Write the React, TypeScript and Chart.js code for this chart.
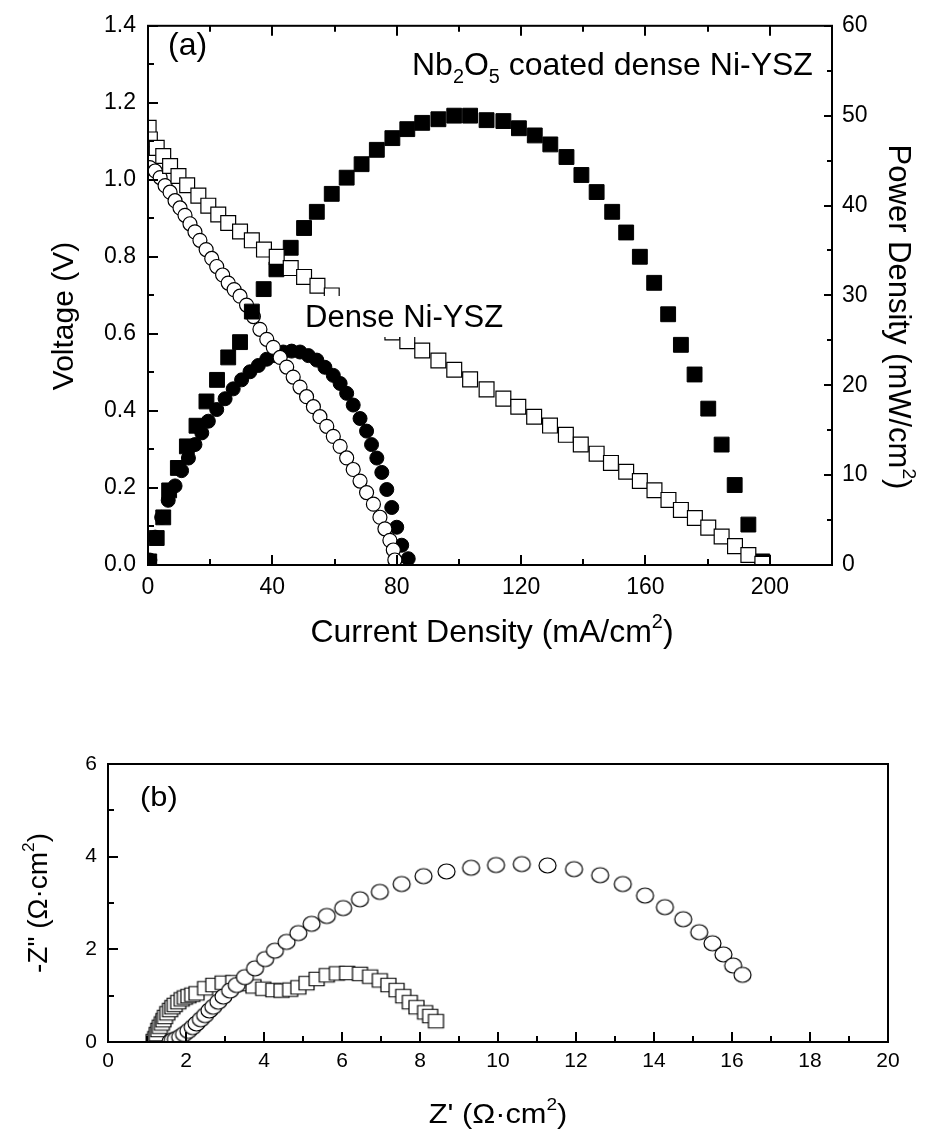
import React, { useEffect, useRef } from 'react';
import { Chart, registerables } from 'chart.js';

Chart.register(...registerables);

const FONT = '"Liberation Sans", Arial, Helvetica, sans-serif';

// ---------------- Panel (a): fuel-cell performance ----------------
// Nb2O5 coated dense Ni-YSZ : voltage (open squares)
const coatedVX = [0.2, 0.6, 2.8, 4.9, 7.1, 9.8, 12.6, 16.2, 19.4, 22.6, 25.8, 29.6, 33.4, 37.3, 41.4, 45.9, 50.2, 54.5, 59.1, 63.9, 68.7, 73.6, 78.6, 83.4, 88.2, 93.4, 98.5, 103.6, 108.9, 114.3, 119.1, 124.2, 129.3, 134.4, 139.2, 144.3, 148.9, 153.8, 158.2, 162.9, 167.4, 171.4, 175.9, 180.2, 184.5, 188.8, 193.1, 197.6];
const coatedV = [1.135, 1.105, 1.083, 1.062, 1.036, 1.010, 0.986, 0.959, 0.933, 0.910, 0.888, 0.866, 0.843, 0.819, 0.800, 0.771, 0.748, 0.725, 0.700, 0.675, 0.650, 0.627, 0.604, 0.581, 0.557, 0.531, 0.507, 0.482, 0.456, 0.432, 0.411, 0.385, 0.362, 0.338, 0.313, 0.289, 0.265, 0.242, 0.218, 0.194, 0.169, 0.143, 0.122, 0.097, 0.074, 0.049, 0.026, 0.003];
// Nb2O5 coated dense Ni-YSZ : power density (filled squares)
const coatedPX = [0.4, 2.8, 4.9, 6.8, 9.6, 12.5, 15.6, 18.8, 22.2, 25.8, 29.6, 33.4, 37.2, 41.3, 45.9, 50.2, 54.3, 59.1, 63.9, 68.7, 73.6, 78.6, 83.4, 88.2, 93.4, 98.5, 103.6, 108.9, 114.3, 119.3, 124.4, 129.4, 134.6, 139.4, 144.3, 149.3, 153.8, 158.2, 162.8, 167.3, 171.4, 175.8, 180.2, 184.5, 188.7, 193.1, 197.6];
const coatedP = [0.4, 3.0, 5.3, 8.3, 10.8, 13.2, 15.5, 18.2, 20.6, 23.1, 24.8, 28.2, 30.7, 32.9, 35.3, 37.5, 39.3, 41.3, 43.1, 44.6, 46.2, 47.5, 48.5, 49.2, 49.6, 50.0, 50.0, 49.5, 49.4, 48.6, 47.8, 46.8, 45.4, 43.4, 41.5, 39.3, 37.0, 34.3, 31.4, 27.9, 24.5, 21.2, 17.4, 13.4, 8.9, 4.5, 0.4];
// Dense Ni-YSZ : voltage (open circles)
const denseVX = [0.6, 2.3, 3.9, 5.5, 7.1, 8.7, 10.3, 11.9, 13.5, 15.1, 16.7, 18.7, 20.5, 22.1, 24.0, 25.8, 27.7, 29.6, 31.7, 33.9, 36.0, 38.2, 40.3, 42.5, 44.6, 46.7, 48.9, 51.0, 53.2, 55.3, 57.5, 59.6, 61.8, 63.9, 66.0, 68.2, 70.3, 72.5, 74.6, 76.2, 77.8, 78.9, 79.4];
const denseV = [1.032, 1.023, 1.006, 0.985, 0.968, 0.946, 0.927, 0.908, 0.886, 0.865, 0.843, 0.819, 0.796, 0.775, 0.753, 0.732, 0.715, 0.698, 0.675, 0.645, 0.612, 0.586, 0.565, 0.539, 0.514, 0.488, 0.462, 0.437, 0.411, 0.385, 0.360, 0.334, 0.308, 0.278, 0.248, 0.218, 0.188, 0.158, 0.124, 0.094, 0.064, 0.039, 0.013];
// Dense Ni-YSZ : power density (filled circles)
const densePX = [0.6, 2.3, 4.4, 6.5, 8.7, 10.8, 13.0, 15.1, 17.3, 19.4, 22.1, 24.8, 27.4, 30.1, 32.8, 35.5, 38.2, 40.8, 43.5, 46.2, 48.9, 51.6, 54.3, 56.9, 59.6, 61.8, 63.9, 66.0, 68.2, 70.3, 71.9, 73.6, 75.2, 76.8, 78.4, 80.0, 81.6, 83.7];
const denseP = [0.55, 3.1, 5.3, 7.2, 8.8, 10.5, 11.9, 13.4, 14.7, 16.0, 17.3, 18.5, 19.6, 20.6, 21.5, 22.2, 22.9, 23.3, 23.7, 23.8, 23.7, 23.3, 22.8, 22.0, 21.1, 20.2, 19.1, 17.8, 16.3, 14.9, 13.4, 11.9, 10.3, 8.4, 6.4, 4.2, 2.2, 0.7];

const aXTicks = [0, 20, 40, 60, 80, 100, 120, 140, 160, 180, 200, 220];
const aXLabels = [0, 40, 80, 120, 160, 200];
const aVTicks = [0, 0.1, 0.2, 0.3, 0.4, 0.5, 0.6, 0.7, 0.8, 0.9, 1.0, 1.1, 1.2, 1.3, 1.4];
const aVLabels = [0, 0.2, 0.4, 0.6, 0.8, 1.0, 1.2, 1.4];
const aPTicks = [0, 5, 10, 15, 20, 25, 30, 35, 40, 45, 50, 55, 60];
const aPLabels = [0, 10, 20, 30, 40, 50, 60];

// ---------------- Panel (b): impedance spectra ----------------
const denseZre = [1.60, 1.66, 1.74, 1.85, 1.95, 2.06, 2.17, 2.27, 2.38, 2.49, 2.60, 2.70, 2.83, 2.96, 3.13, 3.30, 3.51, 3.77, 4.03, 4.28, 4.58, 4.88, 5.22, 5.61, 6.03, 6.46, 6.97, 7.53, 8.09, 8.68, 9.31, 9.95, 10.61, 11.27, 11.95, 12.62, 13.20, 13.77, 14.28, 14.75, 15.16, 15.50, 15.78, 16.03, 16.27];
const denseZim = [0.01, 0.04, 0.06, 0.11, 0.17, 0.24, 0.32, 0.40, 0.49, 0.58, 0.68, 0.76, 0.87, 0.98, 1.11, 1.23, 1.40, 1.59, 1.79, 1.97, 2.16, 2.35, 2.55, 2.72, 2.89, 3.08, 3.24, 3.41, 3.58, 3.68, 3.76, 3.82, 3.84, 3.81, 3.73, 3.60, 3.41, 3.16, 2.91, 2.65, 2.37, 2.13, 1.89, 1.65, 1.45];
const coatedZre = [1.17, 1.21, 1.25, 1.29, 1.33, 1.38, 1.42, 1.46, 1.52, 1.59, 1.65, 1.71, 1.80, 1.89, 1.97, 2.06, 2.16, 2.27, 2.49, 2.70, 2.94, 3.21, 3.47, 3.73, 3.98, 4.24, 4.45, 4.67, 4.88, 5.09, 5.35, 5.61, 5.87, 6.13, 6.46, 6.72, 6.97, 7.19, 7.40, 7.57, 7.74, 7.91, 8.13, 8.26, 8.41];
const coatedZim = [0.02, 0.08, 0.17, 0.26, 0.33, 0.40, 0.47, 0.54, 0.62, 0.69, 0.75, 0.80, 0.86, 0.92, 0.96, 0.99, 1.02, 1.05, 1.16, 1.23, 1.28, 1.29, 1.25, 1.20, 1.15, 1.12, 1.11, 1.13, 1.18, 1.27, 1.36, 1.44, 1.48, 1.49, 1.47, 1.41, 1.33, 1.23, 1.12, 0.99, 0.86, 0.75, 0.64, 0.56, 0.45];

const bXTicks = [0, 1, 2, 3, 4, 5, 6, 7, 8, 9, 10, 11, 12, 13, 14, 15, 16, 17, 18, 19, 20];
const bXLabels = [0, 2, 4, 6, 8, 10, 12, 14, 16, 18, 20];
const bYTicks = [0, 1, 2, 3, 4, 5, 6];
const bYLabels = [0, 2, 4, 6];

type Seg = { t: string; s?: 'sub' | 'sup' };

const pts = (xs: number[], ys: number[]) => xs.map((x, i) => ({ x, y: ys[i] }));
const has = (arr: number[], v: number) => arr.some((m) => Math.abs(m - v) < 1e-6);

function drawRich(ctx: CanvasRenderingContext2D, segs: Seg[], x: number, y: number, size: number, align: 'left' | 'center', rot = 0, sx = 1) {
  ctx.save();
  ctx.translate(x, y);
  ctx.rotate(rot);
  ctx.scale(sx, 1);
  const f = (s: number) => `${s}px ${FONT}`;
  const widths = segs.map((sg) => {
    ctx.font = f(sg.s ? size * 0.62 : size);
    return ctx.measureText(sg.t).width;
  });
  const total = widths.reduce((a, b) => a + b, 0);
  let cx = align === 'center' ? -total / 2 : 0;
  ctx.fillStyle = '#000';
  ctx.textAlign = 'left';
  ctx.textBaseline = 'alphabetic';
  segs.forEach((sg, i) => {
    ctx.font = f(sg.s ? size * 0.62 : size);
    const dy = sg.s === 'sub' ? size * 0.26 : sg.s === 'sup' ? -size * 0.45 : 0;
    ctx.fillText(sg.t, cx, dy);
    cx += widths[i];
  });
  ctx.restore();
}

function tickMarks(chart: any, id: string, side: string, values: number[], majors: number[], majLen: number, minLen: number) {
  const s = chart.scales[id];
  const a = chart.chartArea;
  const ctx = chart.ctx as CanvasRenderingContext2D;
  ctx.save();
  ctx.strokeStyle = '#000';
  ctx.lineWidth = 2;
  ctx.beginPath();
  values.forEach((v) => {
    const p = Math.round(s.getPixelForValue(v));
    const len = has(majors, v) ? majLen : minLen;
    if (side === 'bottom') { ctx.moveTo(p, a.bottom); ctx.lineTo(p, a.bottom - len); }
    if (side === 'top') { ctx.moveTo(p, a.top); ctx.lineTo(p, a.top + len); }
    if (side === 'left') { ctx.moveTo(a.left, p); ctx.lineTo(a.left + len, p); }
    if (side === 'right') { ctx.moveTo(a.right, p); ctx.lineTo(a.right - len, p); }
  });
  ctx.stroke();
  ctx.restore();
}

function frame(chart: any) {
  const a = chart.chartArea;
  const ctx = chart.ctx as CanvasRenderingContext2D;
  ctx.save();
  ctx.strokeStyle = '#000';
  ctx.lineWidth = 2;
  ctx.strokeRect(a.left, a.top, a.right - a.left, a.bottom - a.top);
  ctx.restore();
}

// Slightly wide open markers (the lower panel is stretched horizontally)
function markerCanvas(kind: 'ellipse' | 'rect', w: number, h: number) {
  const c = document.createElement('canvas');
  c.width = Math.ceil(w + 4);
  c.height = Math.ceil(h + 4);
  const g = c.getContext('2d') as CanvasRenderingContext2D;
  g.fillStyle = '#fff';
  g.strokeStyle = '#000';
  g.lineWidth = 1.2;
  g.beginPath();
  if (kind === 'ellipse') g.ellipse(c.width / 2, c.height / 2, w / 2, h / 2, 0, 0, Math.PI * 2);
  else g.rect((c.width - w) / 2, (c.height - h) / 2, w, h);
  g.fill();
  g.stroke();
  return c;
}

const tickFont = (size: number) => ({ family: FONT, size });

function scaleBase(min: number, max: number, step: number, labels: number[], fmt: (v: number) => string, pad: number, fsize: number, position: string, fit: (s: any) => void) {
  return {
    type: 'linear',
    position,
    min,
    max,
    grid: { display: false, drawTicks: false },
    border: { display: false },
    afterFit: fit,
    ticks: {
      stepSize: step,
      autoSkip: false,
      maxRotation: 0,
      minRotation: 0,
      padding: pad,
      color: '#000',
      font: tickFont(fsize),
      callback: (v: any) => (has(labels, Number(v)) ? fmt(Number(v)) : ''),
    },
  };
}

export default function App() {
  const refA = useRef<HTMLCanvasElement>(null);
  const refB = useRef<HTMLCanvasElement>(null);

  useEffect(() => {
    const common = {
      responsive: false,
      maintainAspectRatio: false,
      devicePixelRatio: 1,
      animation: false,
      events: [],
    };

    const chartA = new Chart(refA.current as HTMLCanvasElement, {
      type: 'scatter',
      data: {
        datasets: [
          { data: pts(coatedVX, coatedV), yAxisID: 'y', pointStyle: 'rect', pointRadius: 10.5, backgroundColor: '#fff', borderColor: '#000', borderWidth: 1.2, order: 1 },
          { data: pts(coatedPX, coatedP), yAxisID: 'y2', pointStyle: 'rect', pointRadius: 10.5, backgroundColor: '#000', borderColor: '#000', borderWidth: 1, order: 2 },
          { data: pts(denseVX, denseV), yAxisID: 'y', pointStyle: 'circle', pointRadius: 7, backgroundColor: '#fff', borderColor: '#000', borderWidth: 1.2, order: 3 },
          { data: pts(densePX, denseP), yAxisID: 'y2', pointStyle: 'circle', pointRadius: 7, backgroundColor: '#000', borderColor: '#000', borderWidth: 1, order: 4 },
        ],
      } as any,
      options: {
        ...common,
        layout: { padding: { left: 0, right: 0, top: 20, bottom: 0 } },
        plugins: { legend: { display: false }, tooltip: { enabled: false } },
        scales: {
          x: scaleBase(0, 220, 20, aXLabels, (v) => String(v), 9, 23, 'bottom', (s: any) => { s.height = 115; }),
          y: scaleBase(0, 1.4, 0.1, aVLabels, (v) => v.toFixed(1), 12, 23, 'left', (s: any) => { s.width = 148; }),
          y2: scaleBase(0, 60, 5, aPLabels, (v) => String(v), 10, 23, 'right', (s: any) => { s.width = 95; }),
        } as any,
      },
      plugins: [
        {
          id: 'panelA',
          afterDatasetsDraw(chart: any) {
            const ctx = chart.ctx as CanvasRenderingContext2D;
            ctx.save();
            ctx.fillStyle = '#fff';
            ctx.fillRect(300, 296, 205, 41);
            ctx.restore();
          },
          afterDraw(chart: any) {
            const ctx = chart.ctx as CanvasRenderingContext2D;
            frame(chart);
            tickMarks(chart, 'x', 'bottom', aXTicks, aXLabels, 10, 6);
            tickMarks(chart, 'x', 'top', aXTicks, aXLabels, 10, 6);
            tickMarks(chart, 'y', 'left', aVTicks, aVLabels, 10, 6);
            tickMarks(chart, 'y2', 'right', aPTicks, aPLabels, 8, 5);
            drawRich(ctx, [{ t: '(a)' }], 168, 55, 32, 'left');
            drawRich(ctx, [{ t: 'Nb' }, { t: '2', s: 'sub' }, { t: 'O' }, { t: '5', s: 'sub' }, { t: ' coated dense Ni-YSZ' }], 412, 75, 32, 'left');
            drawRich(ctx, [{ t: 'Dense Ni-YSZ' }], 305, 327, 31, 'left');
            drawRich(ctx, [{ t: 'Current Density (mA/cm' }, { t: '2', s: 'sup' }, { t: ')' }], 492, 642, 32, 'center');
            drawRich(ctx, [{ t: 'Voltage (V)' }], 73, 316, 30, 'center', -Math.PI / 2);
            drawRich(ctx, [{ t: 'Power Density (mW/cm' }, { t: '2', s: 'sup' }, { t: ')' }], 889, 317, 31, 'center', Math.PI / 2);
          },
        },
      ],
    } as any);

    const openEllipse = markerCanvas('ellipse', 17, 15);
    const openSquare = markerCanvas('rect', 15, 13.5);

    const chartB = new Chart(refB.current as HTMLCanvasElement, {
      type: 'scatter',
      data: {
        datasets: [
          { data: pts(denseZre, denseZim), pointStyle: openEllipse, pointRadius: 8, backgroundColor: '#fff', borderColor: '#000', borderWidth: 1.2, order: 1 },
          { data: pts(coatedZre, coatedZim), pointStyle: openSquare, pointRadius: 8, backgroundColor: '#fff', borderColor: '#000', borderWidth: 1.2, order: 2 },
        ],
      } as any,
      options: {
        ...common,
        layout: { padding: { left: 0, right: 39, top: 84, bottom: 0 } },
        plugins: { legend: { display: false }, tooltip: { enabled: false } },
        scales: {
          x: scaleBase(0, 20, 1, bXLabels, (v) => String(v), 7, 21, 'bottom', (s: any) => { s.height = 91; }),
          y: scaleBase(0, 6, 1, bYLabels, (v) => String(v), 11, 21, 'left', (s: any) => { s.width = 108; }),
        } as any,
      },
      plugins: [
        {
          id: 'panelB',
          afterDraw(chart: any) {
            const ctx = chart.ctx as CanvasRenderingContext2D;
            frame(chart);
            tickMarks(chart, 'x', 'bottom', bXTicks, bXLabels, 10, 6);
            tickMarks(chart, 'y', 'left', bYTicks, bYLabels, 10, 6);
            drawRich(ctx, [{ t: '(b)' }], 140, 126, 28, 'left', 0, 1.1);
            drawRich(ctx, [{ t: "Z' (\u03A9\u00B7cm" }, { t: '2', s: 'sup' }, { t: ')' }], 498, 443, 28, 'center', 0, 1.1);
            drawRich(ctx, [{ t: '-Z" (\u03A9\u00B7cm' }, { t: '2', s: 'sup' }, { t: ')' }], 47, 223, 28, 'center', -Math.PI / 2);
          },
        },
      ],
    } as any);

    return () => {
      chartA.destroy();
      chartB.destroy();
    };
  }, []);

  return (
    <div style={{ position: 'absolute', left: 0, top: 0, width: 927, height: 1133, background: '#fff' }}>
      <canvas ref={refA} width={927} height={680} style={{ position: 'absolute', left: 0, top: 0, width: 927, height: 680, display: 'block' }} />
      <canvas ref={refB} width={927} height={453} style={{ position: 'absolute', left: 0, top: 680, width: 927, height: 453, display: 'block' }} />
    </div>
  );
}
